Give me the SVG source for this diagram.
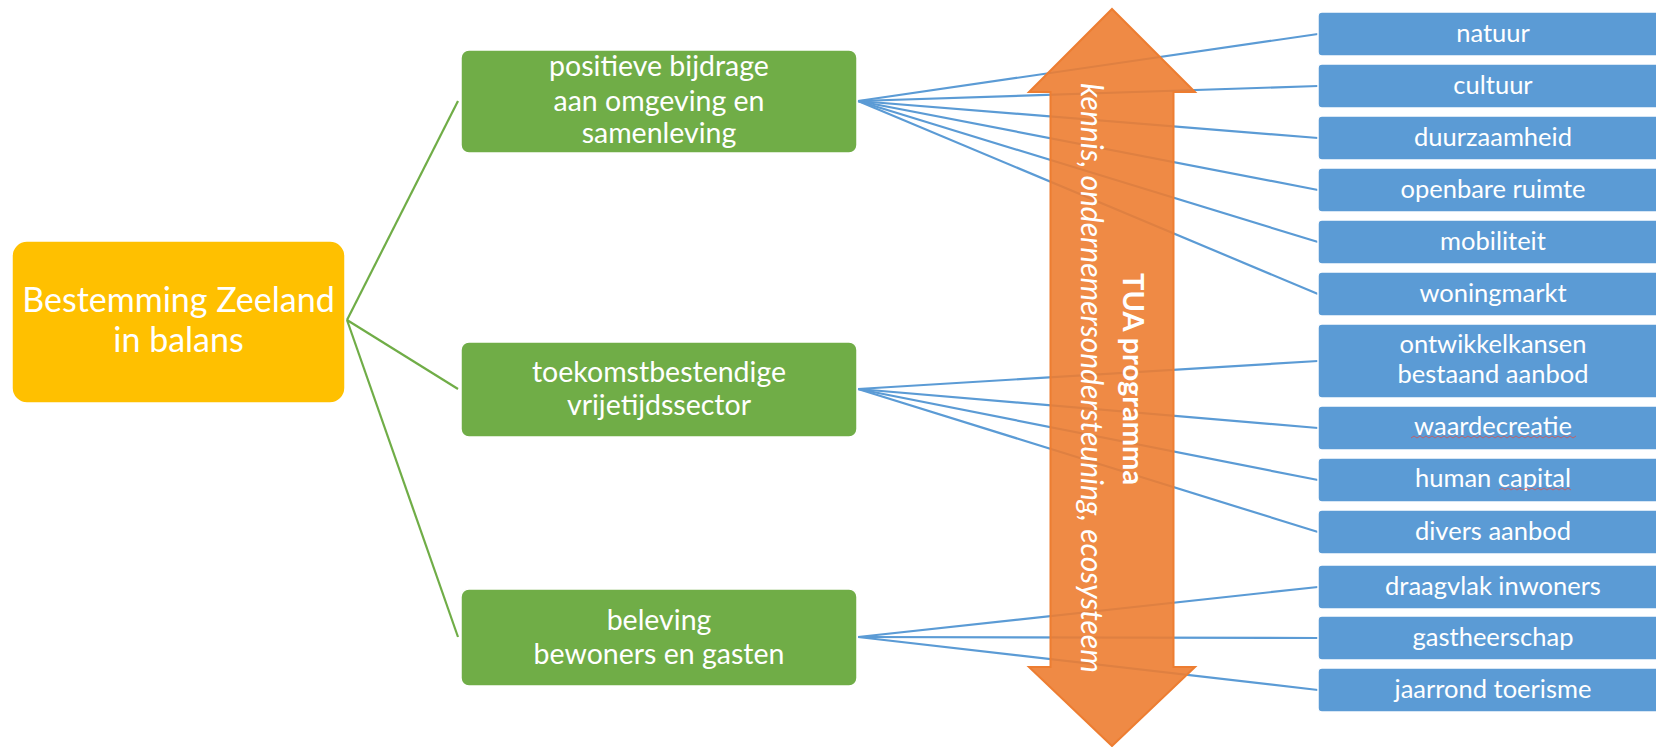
<svg xmlns="http://www.w3.org/2000/svg" width="1656" height="747" viewBox="0 0 1656 747">
  <style>
    .t { font-family: Lato, "Open Sans", sans-serif; fill: #ffffff; text-anchor: middle; }
    .root rect { fill: #FFC000; stroke: #ffffff; stroke-width: 1.5; }
    .mid rect { fill: #70AD47; stroke: #ffffff; stroke-width: 1.5; }
    .leaf rect { fill: #5B9BD5; stroke: #ffffff; stroke-width: 1.5; }
    .root text { font-size: 34px; }
    .mid text { font-size: 28.5px; }
    .leaf text { font-size: 25.5px; }
    .gl { stroke: #70AD47; stroke-width: 2.2; fill: none; }
    .bl { stroke: #5B9BD5; stroke-width: 2.2; fill: none; }
    .sq { stroke: #D9534F; stroke-width: 1; fill: none; opacity: 0.8; }
  </style>

  <g id="connectors">
    <line class="gl" x1="347" y1="320" x2="458" y2="101"/>
    <line class="gl" x1="347" y1="320" x2="458" y2="389"/>
    <line class="gl" x1="347" y1="320" x2="458" y2="637"/>

    <line class="bl" x1="858" y1="101" x2="1318" y2="34"/>
    <line class="bl" x1="858" y1="101" x2="1318" y2="86"/>
    <line class="bl" x1="858" y1="101" x2="1318" y2="138"/>
    <line class="bl" x1="858" y1="101" x2="1318" y2="190"/>
    <line class="bl" x1="858" y1="101" x2="1318" y2="242"/>
    <line class="bl" x1="858" y1="101" x2="1318" y2="294"/>

    <line class="bl" x1="858" y1="389" x2="1318" y2="361"/>
    <line class="bl" x1="858" y1="389" x2="1318" y2="428"/>
    <line class="bl" x1="858" y1="389" x2="1318" y2="480"/>
    <line class="bl" x1="858" y1="389" x2="1318" y2="532"/>

    <line class="bl" x1="858" y1="637" x2="1318" y2="587"/>
    <line class="bl" x1="858" y1="637" x2="1318" y2="638"/>
    <line class="bl" x1="858" y1="637" x2="1318" y2="690"/>
  </g>

  <g id="tua-arrow">
    <polygon points="1112,9 1195,92 1173.5,92 1173.5,667 1195,667 1112,746 1029,667 1050.5,667 1050.5,92 1029,92" fill="#ED7D31" fill-opacity="0.9" stroke="#ED7D31" stroke-width="2" stroke-linejoin="miter"/>
    <text class="t" transform="translate(1081,378) rotate(90)" x="0" y="0" font-size="30" font-style="italic">kennis, ondernemersondersteuning, ecosysteem</text>
    <text class="t" transform="translate(1123,379) rotate(90)" x="0" y="0" font-size="29" font-weight="bold">TUA programma</text>
  </g>

  <g id="root" class="root">
    <rect x="12" y="241" width="333" height="162" rx="15"/>
    <text class="t" x="178.5" y="312">Bestemming Zeeland</text>
    <text class="t" x="178.5" y="352">in balans</text>
  </g>

  <g id="mid-positieve" class="mid">
    <rect x="461" y="50" width="396" height="103" rx="8"/>
    <text class="t" x="659" y="76">positieve bijdrage</text>
    <text class="t" x="659" y="111">aan omgeving en</text>
    <text class="t" x="659" y="143">samenleving</text>
  </g>
  <g id="mid-toekomst" class="mid">
    <rect x="461" y="342" width="396" height="95" rx="8"/>
    <text class="t" x="659" y="382">toekomstbestendige</text>
    <text class="t" x="659" y="415">vrijetijdssector</text>
  </g>
  <g id="mid-beleving" class="mid">
    <rect x="461" y="589" width="396" height="97" rx="8"/>
    <text class="t" x="659" y="630">beleving</text>
    <text class="t" x="659" y="664">bewoners en gasten</text>
  </g>

  <g id="leaf-natuur" class="leaf"><rect x="1318" y="12" width="360" height="44" rx="4"/><text class="t" x="1493" y="42">natuur</text></g>
  <g id="leaf-cultuur" class="leaf"><rect x="1318" y="64" width="360" height="44" rx="4"/><text class="t" x="1493" y="94">cultuur</text></g>
  <g id="leaf-duurzaamheid" class="leaf"><rect x="1318" y="116" width="360" height="44" rx="4"/><text class="t" x="1493" y="146">duurzaamheid</text></g>
  <g id="leaf-openbare" class="leaf"><rect x="1318" y="168" width="360" height="44" rx="4"/><text class="t" x="1493" y="198">openbare ruimte</text></g>
  <g id="leaf-mobiliteit" class="leaf"><rect x="1318" y="220" width="360" height="44" rx="4"/><text class="t" x="1493" y="250">mobiliteit</text></g>
  <g id="leaf-woningmarkt" class="leaf"><rect x="1318" y="272" width="360" height="44" rx="4"/><text class="t" x="1493" y="302">woningmarkt</text></g>
  <g id="leaf-ontwikkelkansen" class="leaf"><rect x="1318" y="324" width="360" height="74" rx="4"/><text class="t" x="1493" y="353">ontwikkelkansen</text><text class="t" x="1493" y="383">bestaand aanbod</text></g>
  <g id="leaf-waardecreatie" class="leaf"><rect x="1318" y="406" width="360" height="44" rx="4"/><text class="t" x="1493" y="435">waardecreatie</text><path class="sq" d="M1411,438 l3,-2 l3,2 l3,-2 l3,2 l3,-2 l3,2 l3,-2 l3,2 l3,-2 l3,2 l3,-2 l3,2 l3,-2 l3,2 l3,-2 l3,2 l3,-2 l3,2 l3,-2 l3,2 l3,-2 l3,2 l3,-2 l3,2 l3,-2 l3,2 l3,-2 l3,2 l3,-2 l3,2 l3,-2 l3,2 l3,-2 l3,2 l3,-2 l3,2 l3,-2 l3,2 l3,-2 l3,2 l3,-2 l3,2 l3,-2 l3,2 l3,-2 l3,2 l3,-2 l3,2 l3,-2 l3,2 l3,-2 l3,2 l3,-2 l3,2 l3,-2"/></g>
  <g id="leaf-human" class="leaf"><rect x="1318" y="458" width="360" height="44" rx="4"/><text class="t" x="1493" y="487">human capital</text><path class="sq" d="M1499,490 l3,-2 l3,2 l3,-2 l3,2 l3,-2 l3,2 l3,-2 l3,2 l3,-2 l3,2 l3,-2 l3,2 l3,-2 l3,2 l3,-2 l3,2 l3,-2 l3,2 l3,-2 l3,2 l3,-2 l3,2 l3,-2 l3,2"/></g>
  <g id="leaf-divers" class="leaf"><rect x="1318" y="510" width="360" height="44" rx="4"/><text class="t" x="1493" y="540">divers aanbod</text></g>
  <g id="leaf-draagvlak" class="leaf"><rect x="1318" y="565" width="360" height="44" rx="4"/><text class="t" x="1493" y="595">draagvlak inwoners</text></g>
  <g id="leaf-gastheerschap" class="leaf"><rect x="1318" y="616" width="360" height="44" rx="4"/><text class="t" x="1493" y="646">gastheerschap</text></g>
  <g id="leaf-jaarrond" class="leaf"><rect x="1318" y="668" width="360" height="44" rx="4"/><text class="t" x="1493" y="698">jaarrond toerisme</text></g>
</svg>
